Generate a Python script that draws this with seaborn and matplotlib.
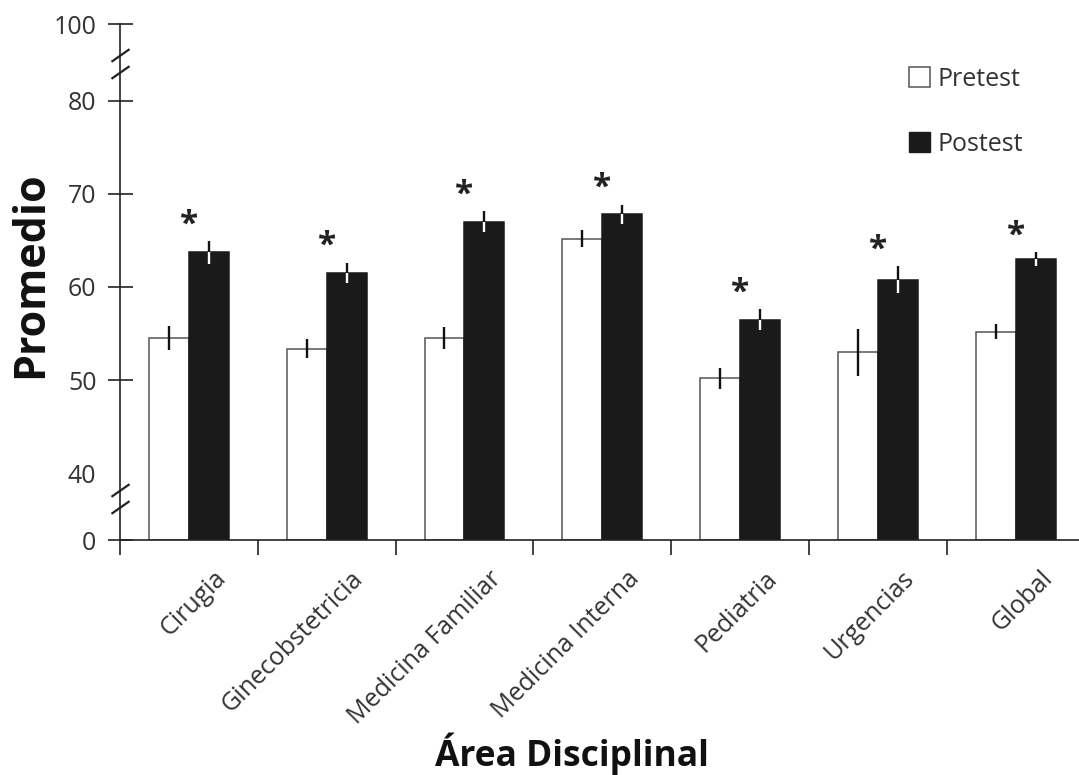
import numpy as np
import pandas as pd
import matplotlib
matplotlib.use("Agg")
import matplotlib.pyplot as plt
import seaborn as sns
from matplotlib.transforms import ScaledTranslation
from matplotlib.patches import Patch
from matplotlib.path import Path

# ---------------- data ----------------
areas = ["Cirugia", "Ginecobstetricia", "Medicina Familiar", "Medicina Interna",
         "Pediatria", "Urgencias", "Global"]
groups = ["Pretest", "Postest"]
pretest = [54.5, 53.4, 54.5, 65.2, 50.2, 53.0, 55.2]
postest = [63.7, 61.5, 67.0, 67.8, 56.5, 60.8, 63.0]
pretest_err = [1.3, 1.0, 1.2, 0.9, 1.1, 2.5, 0.8]
postest_err = [1.2, 1.1, 1.1, 1.0, 1.1, 1.4, 0.7]
significant = [True, True, True, True, True, True, True]
ytick_values = [0, 40, 50, 60, 70, 80, 100]
axis_breaks = [20, 30, 87.6, 92]          # where the // break marks sit

# ---------------- style ----------------
sns.set_style("ticks")
plt.rcParams["font.family"] = ["Open Sans", "DejaVu Sans"]
TXT = "#333333"
INK = "#1a1a1a"

df = pd.DataFrame({
    "Área": areas * 2,
    "Promedio": pretest + postest,
    "Prueba": [groups[0]] * len(areas) + [groups[1]] * len(areas),
})

W, H = 1079, 775
fig = plt.figure(figsize=(W / 100, H / 100), dpi=100)
ax = fig.add_axes([120 / W, 1 - 540 / H, 1 - 120 / W, (540 - 24.4) / H])

sns.barplot(data=df, x="Área", y="Promedio", hue="Prueba", hue_order=groups,
            palette={"Pretest": "white", "Postest": INK}, width=0.58,
            errorbar=None, edgecolor=INK, linewidth=1.1, saturation=1,
            legend=False, ax=ax)

for bar in ax.containers[0]:
    bar.set_edgecolor("#555555")
    bar.set_linewidth(1.1)

# broken axis: piecewise linear scale
brk_v = [0, 40, 80, 100]
brk_p = [0, 66.5, 439.5, 515.6]
ax.set_yscale("function",
              functions=(lambda v: np.interp(v, brk_v, brk_p),
                         lambda p: np.interp(p, brk_p, brk_v)))
ax.set_ylim(0, 100)
ax.set_xlim(-0.5, 6.46)

# error bars
for cont, errs, lowc in zip(ax.containers, [pretest_err, postest_err], ["#111111", "white"]):
    for bar, e in zip(cont, errs):
        x = bar.get_x() + bar.get_width() / 2
        v = bar.get_height()
        ax.vlines(x, v, v + e, color="#111111", lw=1.7, zorder=4)
        ax.vlines(x, v - e, v, color=lowc, lw=1.7, zorder=4)

# significance stars
for i, (bar, e, sig) in enumerate(zip(ax.containers[1], postest_err, significant)):
    if sig:
        ax.annotate("*", xy=(i, bar.get_height() + e), xytext=(0, 0),
                    textcoords="offset points", ha="center", va="bottom",
                    fontsize=24, fontweight="bold", color="#222222")

# spines
sns.despine(ax=ax)
ax.spines["left"].set_bounds(0, 100)
for s in ("left", "bottom"):
    ax.spines[s].set_color("#222222")
    ax.spines[s].set_linewidth(1.2)

# y ticks
ax.set_yticks(ytick_values)
ax.set_yticklabels([str(v) for v in ytick_values])
ax.tick_params(axis="y", direction="inout", length=18, width=1.2, color="#222222",
               labelsize=18, labelcolor=TXT, pad=8)
ax.yaxis.get_major_ticks()[1].tick1line.set_visible(False)

# x ticks: labels at centers, tick marks at boundaries
ax.set_xticks(range(len(areas)))
ax.set_xticklabels(areas, rotation=45, ha="right", va="center", rotation_mode="anchor")
ax.set_xticks(np.arange(-0.5, len(areas) - 0.5, 1), minor=True)
ax.tick_params(axis="x", which="major", length=0, labelsize=18, labelcolor=TXT, pad=25)
ax.tick_params(axis="x", which="minor", direction="out", length=11, width=1.2, color="#222222")
shift = ScaledTranslation(33 / 100, 0, fig.dpi_scale_trans)
for lab in ax.get_xticklabels():
    lab.set_transform(lab.get_transform() + shift)

# break marks
slash = Path([(-1, -0.7), (1, 0.7)], [Path.MOVETO, Path.LINETO])
ax.plot([-0.5] * len(axis_breaks), axis_breaks, linestyle="none", marker=slash,
        ms=13, mew=1.6, mec="#222222", clip_on=False, zorder=5)

# axis labels
ax.set_xlabel("Área Disciplinal", fontsize=25.5, fontweight="bold", color="#111111")
ax.xaxis.label.set_va("baseline")
ax.xaxis.set_label_coords((571.7 - 120) / 959, (540 - 766) / 515.6)
ax.set_ylabel("Promedio", fontsize=31, fontweight="bold", color="#111111")
ax.yaxis.label.set_va("center")
ax.yaxis.set_label_coords((31 - 120) / 959, (540 - 275) / 515.6)

# legend
handles = [Patch(facecolor="white", edgecolor="#555555", lw=1.1),
           Patch(facecolor=INK, edgecolor=INK)]
fig.legend(handles, groups, loc="upper left", bbox_to_anchor=(909 / W, 1 - 67 / H),
           frameon=False, fontsize=18, handlelength=0.85, handleheight=0.85,
           handletextpad=0.3, labelspacing=1.6, borderpad=0, borderaxespad=0,
           labelcolor=TXT)

fig.savefig("out.png", dpi=100)
